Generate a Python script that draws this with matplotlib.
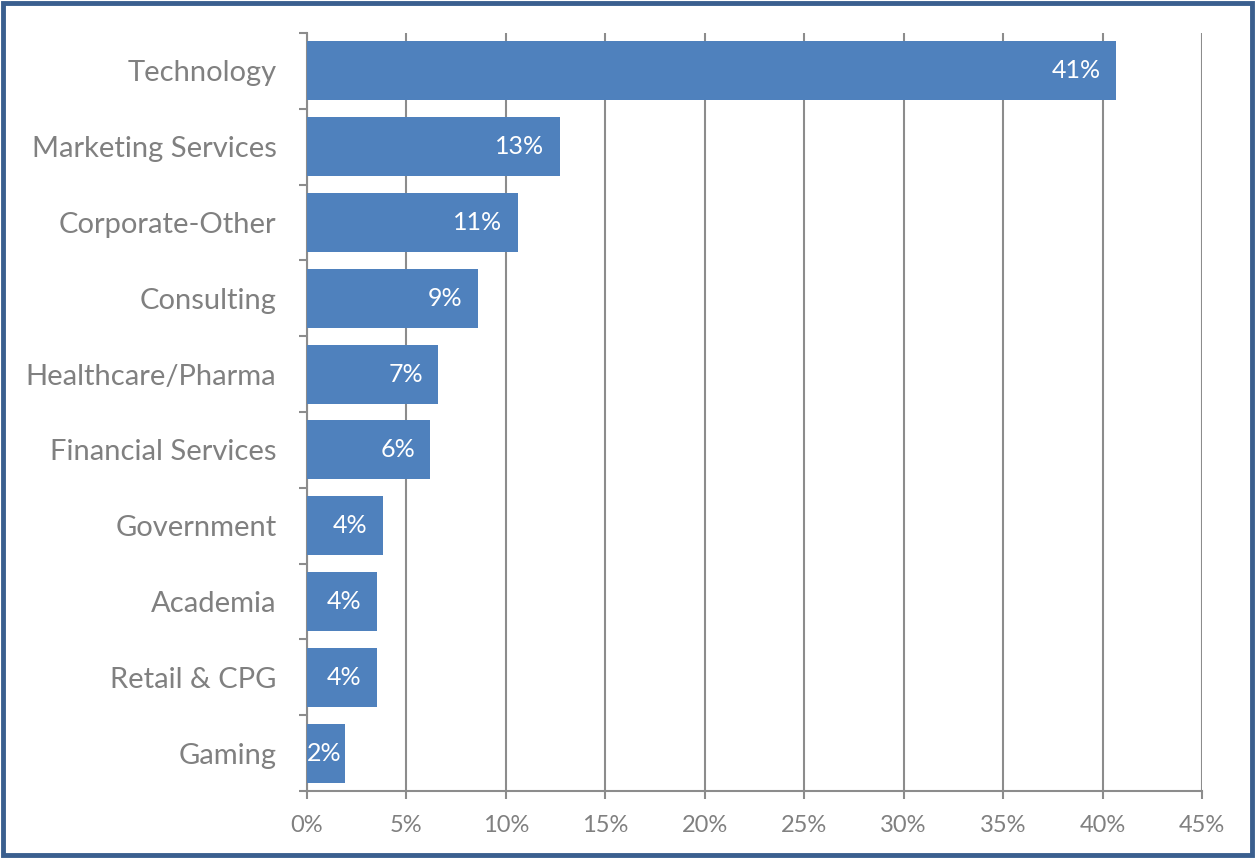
import matplotlib.pyplot as plt
from matplotlib.patches import Rectangle

# Industry shares, top to bottom
industries = ["Technology", "Marketing Services", "Corporate-Other", "Consulting",
              "Healthcare/Pharma", "Financial Services", "Government", "Academia",
              "Retail & CPG", "Gaming"]
shares = [40.7, 12.7, 10.6, 8.6, 6.6, 6.2, 3.8, 3.5, 3.5, 1.9]
x_ticks = [0, 5, 10, 15, 20, 25, 30, 35, 40, 45]

bar_color = "#4F81BD"
gray = "#808080"
grid_gray = "#8C8C8C"

plt.rcParams["font.family"] = ["Lato", "DejaVu Sans"]

fig = plt.figure(figsize=(12.55, 8.58), dpi=100)
ax = fig.add_axes([307 / 1255, 1 - 791 / 858, (1202 - 307) / 1255, (791 - 33) / 858])

n = len(industries)
ypos = list(range(n))
ax.barh(ypos, shares, height=0.78, color=bar_color, zorder=3)
ax.set_ylim(n - 0.5, -0.5)
ax.set_xlim(0, 45)

# value labels inside the bar end
for y, v in zip(ypos, shares):
    if v > 3:
        ax.annotate(f"{v:.0f}%", (v, y), xytext=(-11, 0), textcoords="offset points",
                    ha="right", va="center", color="white", fontsize=18, zorder=4)
    else:
        ax.annotate(f"{v:.0f}%", (0, y), xytext=(0, 0), textcoords="offset points",
                    ha="left", va="center", color="white", fontsize=18, zorder=4)

ax.set_xticks(x_ticks)
ax.set_xticklabels([f"{t}%" for t in x_ticks])
ax.set_yticks([i - 0.5 for i in range(n + 1)], minor=False)
ax.set_yticklabels([])
ax.set_yticks(ypos, minor=True)
ax.set_yticklabels(industries, minor=True)

ax.tick_params(axis="y", which="major", length=6, width=1.5, color=grid_gray, direction="out")
ax.tick_params(axis="y", which="minor", length=0, pad=22, labelsize=21, labelcolor=gray)
ax.tick_params(axis="x", length=6, width=1.5, color=grid_gray, labelsize=17,
               labelcolor=gray, pad=11)

ax.grid(axis="x", color=grid_gray, linewidth=1.5, zorder=0)
for side in ["top", "right"]:
    ax.spines[side].set_visible(False)
for side in ["left", "bottom"]:
    ax.spines[side].set_color(grid_gray)
    ax.spines[side].set_linewidth(1.5)

# dark blue border around the whole figure
fig.patches.append(Rectangle((0.002, 0.003), 0.996, 0.994, transform=fig.transFigure,
                             fill=False, edgecolor="#3A5F8F", linewidth=3.5))

fig.savefig("out.png", dpi=100)
